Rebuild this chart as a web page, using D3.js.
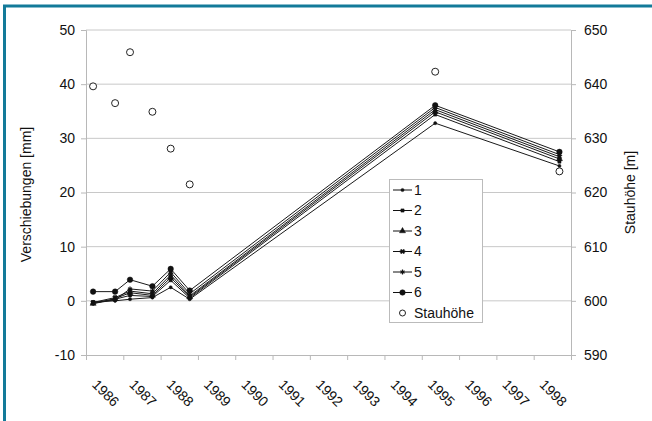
<!DOCTYPE html>
<html>
<head>
<meta charset="utf-8">
<script src="https://cdn.jsdelivr.net/npm/d3@7"></script>
<style>
  body { margin: 0; background: #fff; }
  text { font-family: "Liberation Sans", Arial, sans-serif; fill: #111; }
</style>
</head>
<body>
<div id="chart"></div>
<script>
// Messzeitpunkte (Jahr als Dezimalzahl)
const dates = [1986.19, 1986.78, 1987.18, 1987.78, 1988.27, 1988.78, 1995.36, 1998.69];
const yearLabels = ["1986","1987","1988","1989","1990","1991","1992","1993","1994","1995","1996","1997","1998"];

// Verschiebungen [mm]
const s1 = [-0.2, 0.0, 0.3, 0.6, 2.5, 0.3, 32.8, 24.9];
const s2 = [-0.4, 0.3, 1.0, 0.8, 3.8, 0.5, 34.4, 25.7];
const s3 = [-0.5, 0.4, 1.5, 1.0, 4.3, 0.7, 34.9, 26.2];
const s4 = [-0.3, 0.6, 1.8, 1.3, 4.8, 0.9, 35.3, 26.6];
const s5 = [-0.5, 0.2, 2.2, 1.8, 5.3, 1.3, 35.7, 27.0];
const s6 = [1.7, 1.7, 3.9, 2.7, 5.9, 1.9, 36.1, 27.5];
const seriesNames = ["1", "2", "3", "4", "5", "6"];

// Stauhöhe [m]
const stau = [639.6, 636.5, 645.9, 634.9, 628.1, 621.5, 642.3, 623.9];

const leftTicks = [-10, 0, 10, 20, 30, 40, 50];
const rightTicks = [590, 600, 610, 620, 630, 640, 650];

const width = 652, height = 421;
const plot = { left: 86, right: 571, top: 30, bottom: 355 };

const svg = d3.select("#chart").append("svg")
    .attr("width", width)
    .attr("height", height);

// Rahmen
svg.append("rect")
    .attr("x", 4.5).attr("y", 6)
    .attr("width", 700).attr("height", 500)
    .attr("fill", "none")
    .attr("stroke", "#137a99")
    .attr("stroke-width", 3);

const x = d3.scaleLinear().domain([1986, 1999]).range([plot.left, plot.right]);
const y = d3.scaleLinear().domain([-10, 50]).range([plot.bottom, plot.top]);
const y2 = d3.scaleLinear().domain([590, 650]).range([plot.bottom, plot.top]);

// Gitterlinien
svg.append("g").selectAll("line")
    .data(leftTicks.slice(1))
    .join("line")
    .attr("x1", plot.left).attr("x2", plot.right)
    .attr("y1", d => y(d)).attr("y2", d => y(d))
    .attr("stroke", "#c8c8c8").attr("stroke-width", 1);

// linke Achse
const gl = svg.append("g")
    .attr("transform", `translate(${plot.left},0)`)
    .call(d3.axisLeft(y).tickValues(leftTicks).tickSize(5).tickPadding(6).tickFormat(d => String(d)));
// rechte Achse
const gr = svg.append("g")
    .attr("transform", `translate(${plot.right},0)`)
    .call(d3.axisRight(y2).tickValues(rightTicks).tickSize(5).tickPadding(8).tickFormat(d => String(d)));
// untere Achse
const gb = svg.append("g")
    .attr("transform", `translate(0,${plot.bottom})`)
    .call(d3.axisBottom(x).tickValues(d3.range(1986, 2000)).tickSize(5).tickFormat(""));

[gl, gr, gb].forEach(g => {
    g.select(".domain").attr("stroke", "#b8b8b8");
    g.selectAll(".tick line").attr("stroke", "#b8b8b8");
    g.selectAll(".tick text").style("font-size", "14px").attr("fill", "#111")
        .style("font-family", "'Liberation Sans', Arial, sans-serif");
});

// Jahreszahlen schräg, mittig im Intervall
svg.append("g").selectAll("text")
    .data(yearLabels)
    .join("text")
    .attr("transform", d => `translate(${x(+d + 0.5) + 1},${plot.bottom + 38}) rotate(45)`)
    .attr("text-anchor", "middle")
    .attr("dy", "0.35em")
    .style("font-size", "14px")
    .text(d => d);

// Achsentitel
svg.append("text")
    .attr("transform", `translate(31,${(plot.top + plot.bottom) / 2 + 2}) rotate(-90)`)
    .attr("text-anchor", "middle")
    .style("font-size", "14px")
    .text("Verschiebungen [mm]");
svg.append("text")
    .attr("transform", `translate(635,${(plot.top + plot.bottom) / 2}) rotate(-90)`)
    .attr("text-anchor", "middle")
    .style("font-size", "14px")
    .text("Stauhöhe [m]");

// Linien der Messpunkte
const series = [s1, s2, s3, s4, s5, s6];
const line = d3.line().x((d, i) => x(dates[i])).y(d => y(d));

const symbols = [
    { type: d3.symbolCircle, size: 8, fill: true },
    { type: d3.symbolSquare, size: 10, fill: true },
    { type: d3.symbolTriangle, size: 16, fill: true },
    { type: d3.symbolCross, size: 14, fill: true, rot: 45 },
    { type: d3.symbolAsterisk, size: 16, fill: false },
    { type: d3.symbolCircle, size: 24, fill: true }
];

series.forEach((s, k) => {
    svg.append("path")
        .datum(s)
        .attr("fill", "none")
        .attr("stroke", "#1a1a1a")
        .attr("stroke-width", 1)
        .attr("d", line);
    const sym = symbols[k];
    svg.append("g").selectAll("path")
        .data(s)
        .join("path")
        .attr("transform", (d, i) => `translate(${x(dates[i])},${y(d)}) rotate(${sym.rot || 0})`)
        .attr("d", d3.symbol().type(sym.type).size(sym.size))
        .attr("fill", sym.fill ? "#111" : "none")
        .attr("stroke", "#111")
        .attr("stroke-width", sym.fill ? 0.5 : 1.2);
});

// Stauhöhe als offene Kreise
svg.append("g").selectAll("circle")
    .data(stau)
    .join("circle")
    .attr("cx", (d, i) => x(dates[i]))
    .attr("cy", d => y2(d))
    .attr("r", 3.5)
    .attr("fill", "#fff")
    .attr("stroke", "#222")
    .attr("stroke-width", 1);

// Legende
const lg = svg.append("g");
lg.append("rect")
    .attr("x", 389.5).attr("y", 179.5)
    .attr("width", 93).attr("height", 143)
    .attr("fill", "#fff")
    .attr("stroke", "#bbb");

const legendNames = seriesNames.concat(["Stauhöhe"]);
const ly = d3.scalePoint().domain(legendNames).range([190, 313]);

seriesNames.forEach((n, k) => {
    lg.append("line")
        .attr("x1", 393).attr("x2", 412)
        .attr("y1", ly(n)).attr("y2", ly(n))
        .attr("stroke", "#111");
    const sym = symbols[k];
    lg.append("path")
        .attr("transform", `translate(402.5,${ly(n)}) rotate(${sym.rot || 0})`)
        .attr("d", d3.symbol().type(sym.type).size(sym.size))
        .attr("fill", sym.fill ? "#111" : "none")
        .attr("stroke", "#111")
        .attr("stroke-width", sym.fill ? 0.5 : 1.2);
});
lg.append("circle")
    .attr("cx", 402.5).attr("cy", ly("Stauhöhe"))
    .attr("r", 3).attr("fill", "#fff").attr("stroke", "#222");

lg.selectAll("text.lbl")
    .data(legendNames)
    .join("text")
    .attr("class", "lbl")
    .attr("x", 414)
    .attr("y", d => ly(d))
    .attr("dy", "0.35em")
    .style("font-size", "14px")
    .text(d => d);
</script>
</body>
</html>
